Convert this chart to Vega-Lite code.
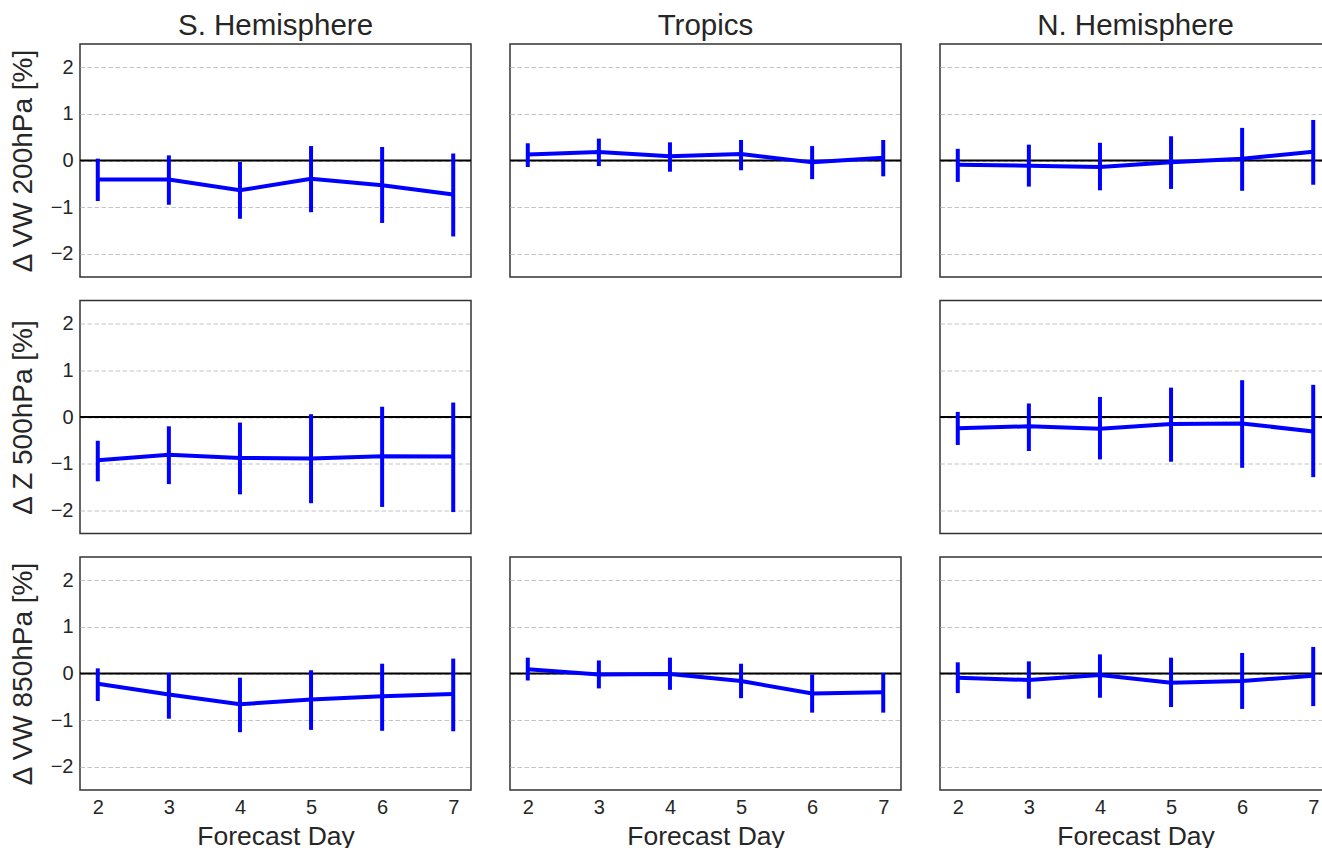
{
 "$schema": "https://vega.github.io/schema/vega-lite/v6.json",
 "background": "white",
 "padding": {"left": 8, "top": 9, "right": -9, "bottom": -3},
 "data": {"values": [
  {"r":"S","v":"VW200","day":2,"m":-0.41,"lo":-0.87,"hi":0.04},
  {"r":"S","v":"VW200","day":3,"m":-0.41,"lo":-0.95,"hi":0.11},
  {"r":"S","v":"VW200","day":4,"m":-0.64,"lo":-1.25,"hi":-0.03},
  {"r":"S","v":"VW200","day":5,"m":-0.39,"lo":-1.11,"hi":0.31},
  {"r":"S","v":"VW200","day":6,"m":-0.53,"lo":-1.34,"hi":0.29},
  {"r":"S","v":"VW200","day":7,"m":-0.73,"lo":-1.63,"hi":0.15},
  {"r":"T","v":"VW200","day":2,"m":0.13,"lo":-0.14,"hi":0.37},
  {"r":"T","v":"VW200","day":3,"m":0.18,"lo":-0.12,"hi":0.47},
  {"r":"T","v":"VW200","day":4,"m":0.09,"lo":-0.24,"hi":0.39},
  {"r":"T","v":"VW200","day":5,"m":0.14,"lo":-0.21,"hi":0.44},
  {"r":"T","v":"VW200","day":6,"m":-0.04,"lo":-0.40,"hi":0.31},
  {"r":"T","v":"VW200","day":7,"m":0.06,"lo":-0.34,"hi":0.44},
  {"r":"N","v":"VW200","day":2,"m":-0.09,"lo":-0.46,"hi":0.25},
  {"r":"N","v":"VW200","day":3,"m":-0.11,"lo":-0.56,"hi":0.34},
  {"r":"N","v":"VW200","day":4,"m":-0.14,"lo":-0.64,"hi":0.38},
  {"r":"N","v":"VW200","day":5,"m":-0.04,"lo":-0.61,"hi":0.52},
  {"r":"N","v":"VW200","day":6,"m":0.04,"lo":-0.65,"hi":0.70},
  {"r":"N","v":"VW200","day":7,"m":0.19,"lo":-0.52,"hi":0.87},
  {"r":"S","v":"Z500","day":2,"m":-0.93,"lo":-1.38,"hi":-0.51},
  {"r":"S","v":"Z500","day":3,"m":-0.81,"lo":-1.44,"hi":-0.20},
  {"r":"S","v":"Z500","day":4,"m":-0.88,"lo":-1.66,"hi":-0.12},
  {"r":"S","v":"Z500","day":5,"m":-0.89,"lo":-1.85,"hi":0.06},
  {"r":"S","v":"Z500","day":6,"m":-0.84,"lo":-1.93,"hi":0.22},
  {"r":"S","v":"Z500","day":7,"m":-0.85,"lo":-2.04,"hi":0.31},
  {"r":"N","v":"Z500","day":2,"m":-0.24,"lo":-0.60,"hi":0.11},
  {"r":"N","v":"Z500","day":3,"m":-0.20,"lo":-0.73,"hi":0.29},
  {"r":"N","v":"Z500","day":4,"m":-0.25,"lo":-0.91,"hi":0.43},
  {"r":"N","v":"Z500","day":5,"m":-0.15,"lo":-0.96,"hi":0.63},
  {"r":"N","v":"Z500","day":6,"m":-0.14,"lo":-1.09,"hi":0.79},
  {"r":"N","v":"Z500","day":7,"m":-0.31,"lo":-1.29,"hi":0.69},
  {"r":"S","v":"VW850","day":2,"m":-0.22,"lo":-0.59,"hi":0.11},
  {"r":"S","v":"VW850","day":3,"m":-0.45,"lo":-0.97,"hi":0.01},
  {"r":"S","v":"VW850","day":4,"m":-0.66,"lo":-1.26,"hi":-0.09},
  {"r":"S","v":"VW850","day":5,"m":-0.56,"lo":-1.21,"hi":0.07},
  {"r":"S","v":"VW850","day":6,"m":-0.49,"lo":-1.23,"hi":0.21},
  {"r":"S","v":"VW850","day":7,"m":-0.44,"lo":-1.24,"hi":0.32},
  {"r":"T","v":"VW850","day":2,"m":0.09,"lo":-0.15,"hi":0.34},
  {"r":"T","v":"VW850","day":3,"m":-0.02,"lo":-0.32,"hi":0.28},
  {"r":"T","v":"VW850","day":4,"m":-0.01,"lo":-0.35,"hi":0.34},
  {"r":"T","v":"VW850","day":5,"m":-0.16,"lo":-0.53,"hi":0.21},
  {"r":"T","v":"VW850","day":6,"m":-0.43,"lo":-0.84,"hi":-0.02},
  {"r":"T","v":"VW850","day":7,"m":-0.40,"lo":-0.84,"hi":0.01},
  {"r":"N","v":"VW850","day":2,"m":-0.09,"lo":-0.42,"hi":0.24},
  {"r":"N","v":"VW850","day":3,"m":-0.14,"lo":-0.54,"hi":0.26},
  {"r":"N","v":"VW850","day":4,"m":-0.03,"lo":-0.52,"hi":0.41},
  {"r":"N","v":"VW850","day":5,"m":-0.20,"lo":-0.72,"hi":0.34},
  {"r":"N","v":"VW850","day":6,"m":-0.16,"lo":-0.76,"hi":0.44},
  {"r":"N","v":"VW850","day":7,"m":-0.05,"lo":-0.70,"hi":0.57}
 ]},
 "columns": 3,
 "spacing": {"row": 21.5, "column": 35},
 "concat": [
  {"width":391,"height":233,"title":"S. Hemisphere","transform":[{"filter":"datum.r==='S' && datum.v==='VW200'"}],
   "layer":[
    {"data":{"values":[{"z":0}]},"mark":{"type":"rule","color":"black","strokeWidth":2},"encoding":{"y":{"field":"z","type":"quantitative","scale":{"domain":[-2.5,2.5],"nice":false},"axis":{"title":"Δ VW 200hPa [%]","values":[-2,-1,0,1,2]}}}},
    {"mark":{"type":"line","color":"#0000ff","strokeWidth":4},"encoding":{"x":{"field":"day","type":"quantitative","scale":{"domain":[1.75,7.25],"nice":false,"zero":false},"axis":null},"y":{"field":"m","type":"quantitative","scale":{"domain":[-2.5,2.5],"nice":false},"axis":{"title":"Δ VW 200hPa [%]","values":[-2,-1,0,1,2]}}}},
    {"mark":{"type":"rule","color":"#0000ff","strokeWidth":4},"encoding":{"x":{"field":"day","type":"quantitative","scale":{"domain":[1.75,7.25],"nice":false,"zero":false},"axis":null},"y":{"field":"lo","type":"quantitative","scale":{"domain":[-2.5,2.5],"nice":false},"axis":{"title":"Δ VW 200hPa [%]","values":[-2,-1,0,1,2]}},"y2":{"field":"hi"}}}
   ]},
  {"width":391,"height":233,"title":"Tropics","transform":[{"filter":"datum.r==='T' && datum.v==='VW200'"}],
   "layer":[
    {"data":{"values":[{"z":0}]},"mark":{"type":"rule","color":"black","strokeWidth":2},"encoding":{"y":{"field":"z","type":"quantitative","scale":{"domain":[-2.5,2.5],"nice":false},"axis":{"title":null,"labels":false,"values":[-2,-1,0,1,2]}}}},
    {"mark":{"type":"line","color":"#0000ff","strokeWidth":4},"encoding":{"x":{"field":"day","type":"quantitative","scale":{"domain":[1.75,7.25],"nice":false,"zero":false},"axis":null},"y":{"field":"m","type":"quantitative","scale":{"domain":[-2.5,2.5],"nice":false},"axis":{"title":null,"labels":false,"values":[-2,-1,0,1,2]}}}},
    {"mark":{"type":"rule","color":"#0000ff","strokeWidth":4},"encoding":{"x":{"field":"day","type":"quantitative","scale":{"domain":[1.75,7.25],"nice":false,"zero":false},"axis":null},"y":{"field":"lo","type":"quantitative","scale":{"domain":[-2.5,2.5],"nice":false},"axis":{"title":null,"labels":false,"values":[-2,-1,0,1,2]}},"y2":{"field":"hi"}}}
   ]},
  {"width":391,"height":233,"title":"N. Hemisphere","transform":[{"filter":"datum.r==='N' && datum.v==='VW200'"}],
   "layer":[
    {"data":{"values":[{"z":0}]},"mark":{"type":"rule","color":"black","strokeWidth":2},"encoding":{"y":{"field":"z","type":"quantitative","scale":{"domain":[-2.5,2.5],"nice":false},"axis":{"title":null,"labels":false,"values":[-2,-1,0,1,2]}}}},
    {"mark":{"type":"line","color":"#0000ff","strokeWidth":4},"encoding":{"x":{"field":"day","type":"quantitative","scale":{"domain":[1.75,7.25],"nice":false,"zero":false},"axis":null},"y":{"field":"m","type":"quantitative","scale":{"domain":[-2.5,2.5],"nice":false},"axis":{"title":null,"labels":false,"values":[-2,-1,0,1,2]}}}},
    {"mark":{"type":"rule","color":"#0000ff","strokeWidth":4},"encoding":{"x":{"field":"day","type":"quantitative","scale":{"domain":[1.75,7.25],"nice":false,"zero":false},"axis":null},"y":{"field":"lo","type":"quantitative","scale":{"domain":[-2.5,2.5],"nice":false},"axis":{"title":null,"labels":false,"values":[-2,-1,0,1,2]}},"y2":{"field":"hi"}}}
   ]},
  {"width":391,"height":233,"transform":[{"filter":"datum.r==='S' && datum.v==='Z500'"}],
   "layer":[
    {"data":{"values":[{"z":0}]},"mark":{"type":"rule","color":"black","strokeWidth":2},"encoding":{"y":{"field":"z","type":"quantitative","scale":{"domain":[-2.5,2.5],"nice":false},"axis":{"title":"Δ Z 500hPa [%]","values":[-2,-1,0,1,2]}}}},
    {"mark":{"type":"line","color":"#0000ff","strokeWidth":4},"encoding":{"x":{"field":"day","type":"quantitative","scale":{"domain":[1.75,7.25],"nice":false,"zero":false},"axis":null},"y":{"field":"m","type":"quantitative","scale":{"domain":[-2.5,2.5],"nice":false},"axis":{"title":"Δ Z 500hPa [%]","values":[-2,-1,0,1,2]}}}},
    {"mark":{"type":"rule","color":"#0000ff","strokeWidth":4},"encoding":{"x":{"field":"day","type":"quantitative","scale":{"domain":[1.75,7.25],"nice":false,"zero":false},"axis":null},"y":{"field":"lo","type":"quantitative","scale":{"domain":[-2.5,2.5],"nice":false},"axis":{"title":"Δ Z 500hPa [%]","values":[-2,-1,0,1,2]}},"y2":{"field":"hi"}}}
   ]},
  {"width":391,"height":233,"data":{"values":[{"a":0}]},"mark":{"type":"point","opacity":0},"view":{"stroke":null}},
  {"width":391,"height":233,"transform":[{"filter":"datum.r==='N' && datum.v==='Z500'"}],
   "layer":[
    {"data":{"values":[{"z":0}]},"mark":{"type":"rule","color":"black","strokeWidth":2},"encoding":{"y":{"field":"z","type":"quantitative","scale":{"domain":[-2.5,2.5],"nice":false},"axis":{"title":null,"labels":false,"values":[-2,-1,0,1,2]}}}},
    {"mark":{"type":"line","color":"#0000ff","strokeWidth":4},"encoding":{"x":{"field":"day","type":"quantitative","scale":{"domain":[1.75,7.25],"nice":false,"zero":false},"axis":null},"y":{"field":"m","type":"quantitative","scale":{"domain":[-2.5,2.5],"nice":false},"axis":{"title":null,"labels":false,"values":[-2,-1,0,1,2]}}}},
    {"mark":{"type":"rule","color":"#0000ff","strokeWidth":4},"encoding":{"x":{"field":"day","type":"quantitative","scale":{"domain":[1.75,7.25],"nice":false,"zero":false},"axis":null},"y":{"field":"lo","type":"quantitative","scale":{"domain":[-2.5,2.5],"nice":false},"axis":{"title":null,"labels":false,"values":[-2,-1,0,1,2]}},"y2":{"field":"hi"}}}
   ]},
  {"width":391,"height":233,"transform":[{"filter":"datum.r==='S' && datum.v==='VW850'"}],
   "layer":[
    {"data":{"values":[{"z":0}]},"mark":{"type":"rule","color":"black","strokeWidth":2},"encoding":{"y":{"field":"z","type":"quantitative","scale":{"domain":[-2.5,2.5],"nice":false},"axis":{"title":"Δ VW 850hPa [%]","values":[-2,-1,0,1,2]}}}},
    {"mark":{"type":"line","color":"#0000ff","strokeWidth":4},"encoding":{"x":{"field":"day","type":"quantitative","scale":{"domain":[1.75,7.25],"nice":false,"zero":false},"axis":{"title":"Forecast Day","values":[2,3,4,5,6,7]}},"y":{"field":"m","type":"quantitative","scale":{"domain":[-2.5,2.5],"nice":false},"axis":{"title":"Δ VW 850hPa [%]","values":[-2,-1,0,1,2]}}}},
    {"mark":{"type":"rule","color":"#0000ff","strokeWidth":4},"encoding":{"x":{"field":"day","type":"quantitative","scale":{"domain":[1.75,7.25],"nice":false,"zero":false},"axis":{"title":"Forecast Day","values":[2,3,4,5,6,7]}},"y":{"field":"lo","type":"quantitative","scale":{"domain":[-2.5,2.5],"nice":false},"axis":{"title":"Δ VW 850hPa [%]","values":[-2,-1,0,1,2]}},"y2":{"field":"hi"}}}
   ]},
  {"width":391,"height":233,"transform":[{"filter":"datum.r==='T' && datum.v==='VW850'"}],
   "layer":[
    {"data":{"values":[{"z":0}]},"mark":{"type":"rule","color":"black","strokeWidth":2},"encoding":{"y":{"field":"z","type":"quantitative","scale":{"domain":[-2.5,2.5],"nice":false},"axis":{"title":null,"labels":false,"values":[-2,-1,0,1,2]}}}},
    {"mark":{"type":"line","color":"#0000ff","strokeWidth":4},"encoding":{"x":{"field":"day","type":"quantitative","scale":{"domain":[1.75,7.25],"nice":false,"zero":false},"axis":{"title":"Forecast Day","values":[2,3,4,5,6,7]}},"y":{"field":"m","type":"quantitative","scale":{"domain":[-2.5,2.5],"nice":false},"axis":{"title":null,"labels":false,"values":[-2,-1,0,1,2]}}}},
    {"mark":{"type":"rule","color":"#0000ff","strokeWidth":4},"encoding":{"x":{"field":"day","type":"quantitative","scale":{"domain":[1.75,7.25],"nice":false,"zero":false},"axis":{"title":"Forecast Day","values":[2,3,4,5,6,7]}},"y":{"field":"lo","type":"quantitative","scale":{"domain":[-2.5,2.5],"nice":false},"axis":{"title":null,"labels":false,"values":[-2,-1,0,1,2]}},"y2":{"field":"hi"}}}
   ]},
  {"width":391,"height":233,"transform":[{"filter":"datum.r==='N' && datum.v==='VW850'"}],
   "layer":[
    {"data":{"values":[{"z":0}]},"mark":{"type":"rule","color":"black","strokeWidth":2},"encoding":{"y":{"field":"z","type":"quantitative","scale":{"domain":[-2.5,2.5],"nice":false},"axis":{"title":null,"labels":false,"values":[-2,-1,0,1,2]}}}},
    {"mark":{"type":"line","color":"#0000ff","strokeWidth":4},"encoding":{"x":{"field":"day","type":"quantitative","scale":{"domain":[1.75,7.25],"nice":false,"zero":false},"axis":{"title":"Forecast Day","values":[2,3,4,5,6,7]}},"y":{"field":"m","type":"quantitative","scale":{"domain":[-2.5,2.5],"nice":false},"axis":{"title":null,"labels":false,"values":[-2,-1,0,1,2]}}}},
    {"mark":{"type":"rule","color":"#0000ff","strokeWidth":4},"encoding":{"x":{"field":"day","type":"quantitative","scale":{"domain":[1.75,7.25],"nice":false,"zero":false},"axis":{"title":"Forecast Day","values":[2,3,4,5,6,7]}},"y":{"field":"lo","type":"quantitative","scale":{"domain":[-2.5,2.5],"nice":false},"axis":{"title":null,"labels":false,"values":[-2,-1,0,1,2]}},"y2":{"field":"hi"}}}
   ]}
 ],
 "config": {
  "font": "Liberation Sans",
  "view": {"stroke": "#333333", "strokeWidth": 1.5},
  "axis": {"labelFont": "Liberation Sans", "labelFontSize": 20, "labelColor": "#262626", "titleFont": "Liberation Sans", "titleFontSize": 26.5, "titleFontWeight": "normal", "titleColor": "#262626", "ticks": false, "domain": false, "labelPadding": 7, "labelFlush": false},
  "axisY": {"grid": true, "gridDash": [4.5, 2.5], "gridColor": "#c4c4c4", "gridWidth": 1.2, "titlePadding": 13, "labelFontSize": 20, "titleFontSize": 28},
  "axisX": {"grid": false, "titlePadding": 6, "labelFontSize": 20, "titleFontSize": 26.5},
  "title": {"font": "Liberation Sans", "fontSize": 29.5, "fontWeight": "normal", "color": "#262626", "baseline": "alphabetic", "offset": 3, "anchor": "middle"}
 }
}
